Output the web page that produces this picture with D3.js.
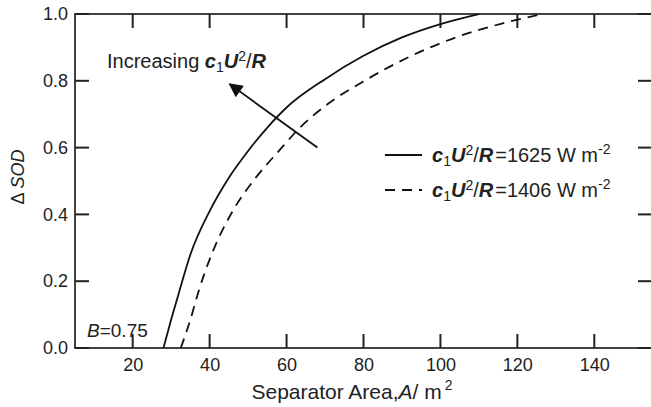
<!DOCTYPE html>
<html>
<head>
<meta charset="utf-8">
<script src="https://cdn.jsdelivr.net/npm/d3@7"></script>
<style>
  body{margin:0;background:#fff;}
  text{font-family:"Liberation Sans",Arial,sans-serif;fill:#222;}
</style>
</head>
<body>
<svg id="svg0" width="651" height="407"></svg>
<script>
// values
var areaSolid=[28,30,32,35,40,45,50,55,60,70,80,90,100,110];
var sodSolid=[0,0.085,0.165,0.28,0.41,0.51,0.59,0.66,0.72,0.805,0.875,0.93,0.97,1.0];
var areaDashed=[32.5,35,37,40.5,46,52,58,63.5,69.5,81,92.5,104,115.5,126.5];
var sodDashed=[0,0.085,0.165,0.28,0.41,0.51,0.59,0.66,0.72,0.805,0.875,0.93,0.97,1.0];
var xTicks=[20,40,60,80,100,120,140];
var yTicks=[0,0.2,0.4,0.6,0.8,1.0];
var arrowFrom=[68,0.60], arrowTo=[45.2,0.79];

var svg=d3.select("#svg0");
var L=75,R=652,T=14,B=348;
var x=d3.scaleLinear().domain([5,155]).range([L,R]);
var y=d3.scaleLinear().domain([0,1]).range([B,T]);

var defs=svg.append("defs");
defs.append("clipPath").attr("id","clip")
  .append("rect").attr("x",L).attr("y",T-1).attr("width",R-L).attr("height",B-T+1);

// axis labels only, the frame and ticks are drawn below
svg.append("g").attr("transform","translate(0,"+B+")")
  .call(d3.axisBottom(x).tickValues(xTicks).tickSize(0).tickPadding(10).tickFormat(d3.format("d")));
svg.append("g").attr("transform","translate("+L+",0)")
  .call(d3.axisLeft(y).tickValues(yTicks).tickSize(0).tickPadding(7).tickFormat(d3.format(".1f")));
svg.selectAll(".domain").remove();
svg.selectAll(".tick text").style("font-size","18px").attr("fill","#222")
  .style("font-family","'Liberation Sans',Arial,sans-serif");

// frame
svg.append("rect").attr("x",L).attr("y",T).attr("width",R-L).attr("height",B-T)
  .attr("fill","none").attr("stroke","#222").attr("stroke-width",1.7);

// inward ticks on all four sides
var tk=14, tw=2;
var tg=svg.append("g").attr("fill","#222");
tg.selectAll("rect.xb").data(xTicks).enter().append("rect").attr("class","xb")
  .attr("x",function(d){return x(d)-tw/2;}).attr("y",B-tk).attr("width",tw).attr("height",tk);
tg.selectAll("rect.xt").data(xTicks).enter().append("rect").attr("class","xt")
  .attr("x",function(d){return x(d)-tw/2;}).attr("y",T).attr("width",tw).attr("height",tk);
tg.selectAll("rect.yl").data(yTicks).enter().append("rect").attr("class","yl")
  .attr("x",L).attr("y",function(d){return y(d)-tw/2;}).attr("width",tk).attr("height",tw);
tg.selectAll("rect.yr").data(yTicks).enter().append("rect").attr("class","yr")
  .attr("x",R-tk).attr("y",function(d){return y(d)-tw/2;}).attr("width",tk).attr("height",tw);

// curves
var line=d3.line().x(function(d){return x(d[0]);}).y(function(d){return y(d[1]);}).curve(d3.curveMonotoneX);
var g=svg.append("g").attr("clip-path","url(#clip)");
g.append("path").datum(d3.zip(areaSolid,sodSolid)).attr("d",line)
  .attr("fill","none").attr("stroke","#111").attr("stroke-width",1.8);
g.append("path").datum(d3.zip(areaDashed,sodDashed)).attr("d",line)
  .attr("fill","none").attr("stroke","#111").attr("stroke-width",1.8).attr("stroke-dasharray","10,7");

// arrow
defs.append("marker").attr("id","head").attr("viewBox","0 0 10 10")
  .attr("refX",9).attr("refY",5).attr("markerWidth",20).attr("markerHeight",14)
  .attr("markerUnits","userSpaceOnUse").attr("orient","auto")
  .append("path").attr("d","M0,0L10,5L0,10Z").attr("fill","#111");
svg.append("line").attr("x1",x(arrowFrom[0])).attr("y1",y(arrowFrom[1]))
  .attr("x2",x(arrowTo[0])).attr("y2",y(arrowTo[1]))
  .attr("stroke","#111").attr("stroke-width",1.8).attr("marker-end","url(#head)");

function param(t,size){
  t.append("tspan").text("c").style("font-weight","bold").style("font-style","italic");
  t.append("tspan").text("1").attr("dy",4).style("font-size",(size*0.7)+"px");
  t.append("tspan").text("U").attr("dy",-4).style("font-weight","bold").style("font-style","italic");
  t.append("tspan").text("2").attr("dy",-7).style("font-size",(size*0.7)+"px");
  t.append("tspan").text("/").attr("dy",7);
  t.append("tspan").text("R").style("font-weight","bold").style("font-style","italic");
}

var ann=svg.append("text").attr("x",107).attr("y",68).style("font-size","20px");
ann.append("tspan").text("Increasing ");
param(ann,20);

// legend
var leg=[{y:155,dash:null,val:"1625"},{y:190,dash:"10,7",val:"1406"}];
leg.forEach(function(d){
  svg.append("line").attr("x1",385).attr("x2",422).attr("y1",d.y).attr("y2",d.y)
    .attr("stroke","#111").attr("stroke-width",1.8).attr("stroke-dasharray",d.dash);
  var t=svg.append("text").attr("x",432).attr("y",d.y+7).style("font-size","20px");
  param(t,20);
  t.append("tspan").text("=").attr("dx",2);
  t.append("tspan").text(d.val+" W m");
  t.append("tspan").text("-2").attr("dy",-8).style("font-size","14px");
});

var bt=svg.append("text").attr("x",87).attr("y",337).style("font-size","19px");
bt.append("tspan").text("B").style("font-style","italic");
bt.append("tspan").text("=0.75");

// axis titles
var xt=svg.append("text").attr("x",352).attr("y",399).attr("text-anchor","middle").style("font-size","21px");
xt.append("tspan").text("Separator Area,");
xt.append("tspan").text("A").style("font-style","italic");
xt.append("tspan").text("/ m");
xt.append("tspan").text("2").attr("dy",-9).attr("dx",3).style("font-size","14px");

var yt=svg.append("text").attr("transform","translate(24,177) rotate(-90)").attr("text-anchor","middle").style("font-size","18px");
yt.append("tspan").text("\u0394 ");
yt.append("tspan").text("SOD").style("font-style","italic");
</script>
</body>
</html>
